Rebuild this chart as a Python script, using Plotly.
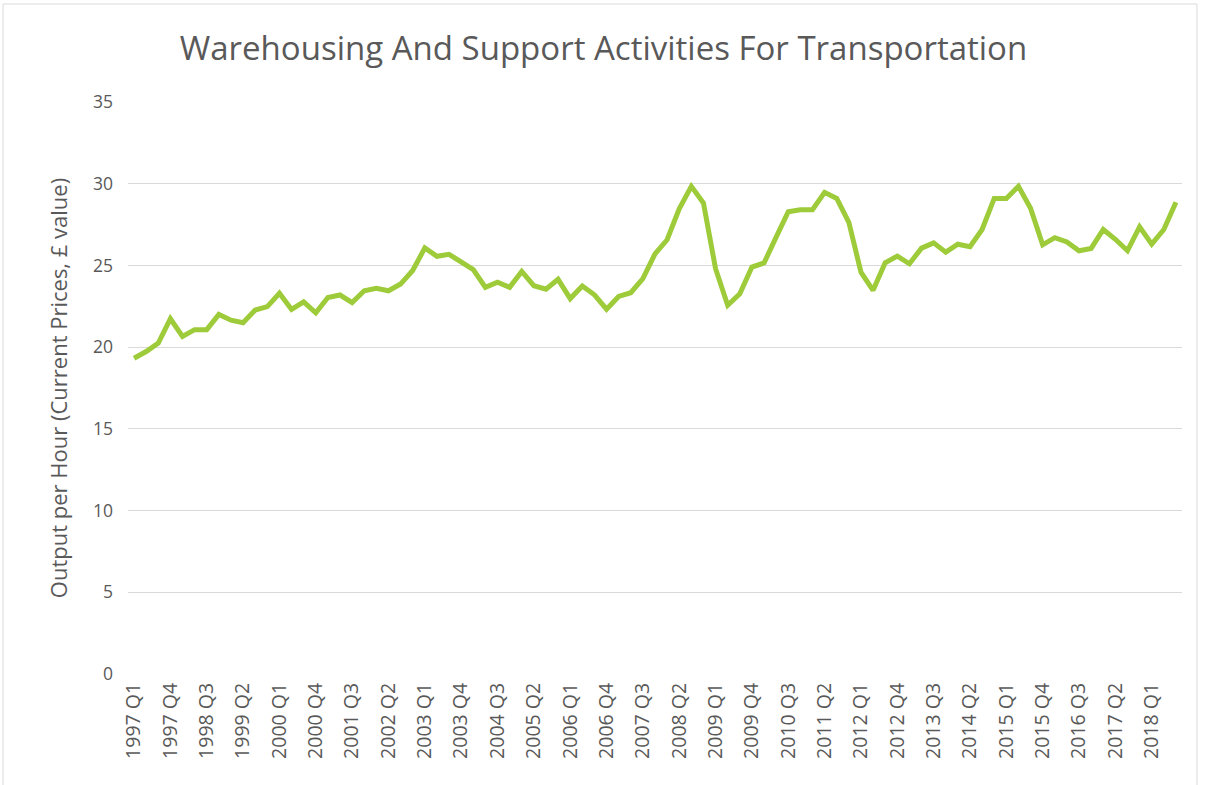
import plotly.graph_objects as go

years = list(range(1997, 2019))
quarters = [f"{y} Q{q}" for y in years for q in (1, 2, 3, 4)][:87]

output_per_hour = [
    19.32, 19.73, 20.25, 21.74, 20.66, 21.07, 21.07, 22.0, 21.65, 21.49,
    22.27, 22.48, 23.3, 22.31, 22.77, 22.1, 23.04, 23.19, 22.73, 23.45,
    23.6, 23.45, 23.86, 24.69, 26.07, 25.56, 25.68, 25.2, 24.75, 23.66,
    23.97, 23.66, 24.63, 23.76, 23.55, 24.15, 22.97, 23.74, 23.2, 22.32,
    23.1, 23.33, 24.19, 25.71, 26.57, 28.46, 29.84, 28.82, 24.8, 22.56,
    23.27, 24.9, 25.15, 26.73, 28.29, 28.41, 28.41, 29.47, 29.1, 27.64,
    24.59, 23.48, 25.16, 25.57, 25.1, 26.06, 26.38, 25.81, 26.3, 26.15,
    27.2, 29.1, 29.1, 29.84, 28.5, 26.26, 26.7, 26.44, 25.9, 26.04,
    27.2, 26.6, 25.9, 27.36, 26.3, 27.2, 28.86,
]

tick_idx = list(range(0, len(quarters), 3))
tick_text = [quarters[i] for i in tick_idx]

title_text = "Warehousing And Support Activities For Transportation"
y_title = "Output per Hour (Current Prices, £ value)"

x_idx = list(range(len(quarters)))

fig = go.Figure()
fig.add_trace(go.Scatter(
    x=x_idx, y=output_per_hour, mode="lines",
    line=dict(color="#9DCB3A", width=5),
    hovertext=quarters, hoverinfo="text+y",
))

grey = "#595959"
W, H = 1207, 785
L, R, T, B = 128, 25, 102, 111
pw, ph = W - L - R, H - T - B

fig.update_layout(
    width=W, height=H,
    paper_bgcolor="white", plot_bgcolor="white",
    margin=dict(l=L, r=R, t=T, b=B, autoexpand=False),
    showlegend=False,
    font=dict(family="Open Sans, Liberation Sans, sans-serif", color=grey),
    title=dict(text=title_text, x=0.5, xref="container", xanchor="center",
               y=1 - 48 / H, yref="container", yanchor="middle",
               font=dict(size=33, color=grey, family="Open Sans, sans-serif")),
    xaxis=dict(
        range=[-0.5, len(quarters) - 0.5], automargin=False,
        tickmode="array", tickvals=tick_idx, ticktext=tick_text,
        tickangle=-90, tickfont=dict(size=19.5, color=grey),
        showgrid=False, zeroline=False, showline=False, ticks="",
        ticklabelstandoff=4,
    ),
    yaxis=dict(
        range=[0, 35], dtick=5, tick0=0, automargin=False,
        showgrid=True, gridcolor="#D9D9D9", gridwidth=1.3,
        zeroline=False, showline=False, ticks="",
        tickfont=dict(size=17.5, color=grey), ticklabelstandoff=14,
        title=dict(text=y_title, font=dict(size=22, color=grey), standoff=19),
    ),
    shapes=[dict(type="rect", xref="paper", yref="paper",
                 x0=(3 - L) / pw, x1=(1197 - L) / pw,
                 y0=-(H + 10 - T - ph) / ph,
                 y1=(ph + T - 4) / ph,
                 line=dict(color="#D9D9D9", width=1))],
)

fig.write_html(
    "out.html",
    config={"displayModeBar": False},
    post_script="document.body.style.margin='0';document.body.style.overflow='hidden';",
)
